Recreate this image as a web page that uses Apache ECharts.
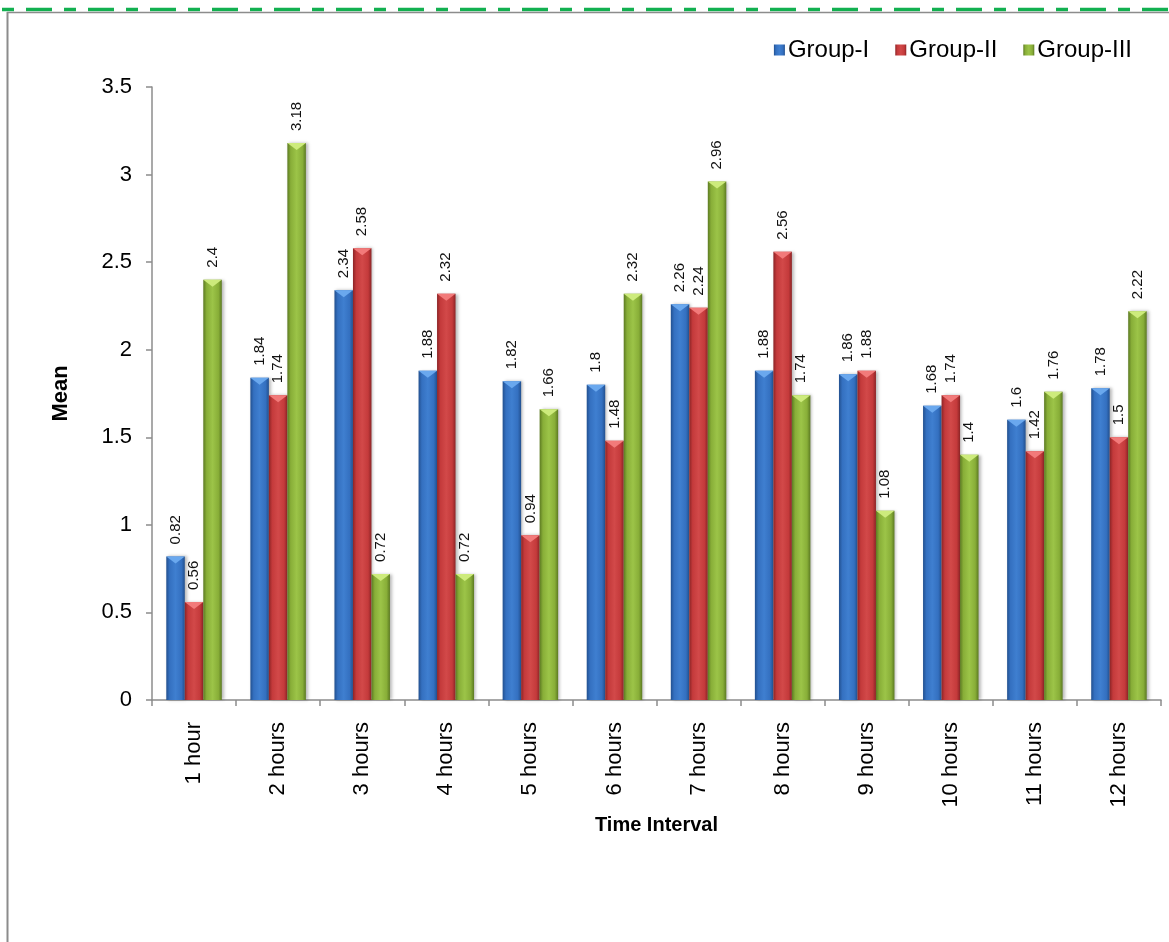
<!DOCTYPE html>
<html>
<head>
<meta charset="utf-8">
<title>Mean by Time Interval</title>
<script src="https://cdn.jsdelivr.net/npm/echarts@6/dist/echarts.min.js"></script>
<style>
  html, body { margin: 0; padding: 0; background: #ffffff; }
  #chart { width: 1169px; height: 942px; }
</style>
</head>
<body>
<div id="chart"></div>
<script>
// Categories and series values
const categories = ['1 hour', '2 hours', '3 hours', '4 hours', '5 hours', '6 hours',
                    '7 hours', '8 hours', '9 hours', '10 hours', '11 hours', '12 hours'];
const groupI   = [0.82, 1.84, 2.34, 1.88, 1.82, 1.8, 2.26, 1.88, 1.86, 1.68, 1.6, 1.78];
const groupII  = [0.56, 1.74, 2.58, 2.32, 0.94, 1.48, 2.24, 2.56, 1.88, 1.74, 1.42, 1.5];
const groupIII = [2.4, 3.18, 0.72, 0.72, 1.66, 2.32, 2.96, 1.74, 1.08, 1.4, 1.76, 2.22];
const seriesNames = ['Group-I', 'Group-II', 'Group-III'];

const FONT = '"Liberation Sans", Arial, sans-serif';

// Cylinder-like shading: dark edges, lighter centre
function shade(dark, mid, light) {
  return new echarts.graphic.LinearGradient(0, 0, 1, 0, [
    { offset: 0, color: dark },
    { offset: 0.18, color: mid },
    { offset: 0.5, color: light },
    { offset: 0.82, color: mid },
    { offset: 1, color: dark }
  ]);
}

const palette = [
  { fill: shade('#22508f', '#3470c0', '#3f7fd0'), cap: '#6aa8ee' },
  { fill: shade('#8c2426', '#c43a3b', '#d24949'), cap: '#f27a7a' },
  { fill: shade('#5c7a22', '#88ae38', '#9cc448'), cap: '#cdeb7c' }
];
const values = [groupI, groupII, groupIII];

const GAP = '34%';

const barSeries = values.map((v, i) => ({
  name: seriesNames[i],
  type: 'bar',
  data: v,
  barGap: 0,
  barCategoryGap: GAP,
  itemStyle: {
    color: palette[i].fill,
    shadowColor: 'rgba(0,0,0,0.28)',
    shadowBlur: 3,
    shadowOffsetX: 2
  },
  label: {
    show: true,
    position: 'top',
    rotate: 90,
    align: 'left',
    verticalAlign: 'middle',
    distance: 12,
    fontFamily: FONT,
    fontSize: 15,
    color: '#111'
  },
  z: 2
}));

// Bevelled caps at the top of each bar
const capSeries = values.map((v, i) => ({
  name: seriesNames[i] + ' cap',
  type: 'pictorialBar',
  data: v,
  barGap: 0,
  barCategoryGap: GAP,
  symbol: 'path://M0,0 L20,0 L10,7 Z',
  symbolSize: ['100%', 7],
  symbolPosition: 'end',
  symbolOffset: [0, 0],
  itemStyle: { color: palette[i].cap },
  silent: true,
  z: 3
}));

const chart = echarts.init(document.getElementById('chart'), null, { renderer: 'canvas' });

chart.setOption({
  animation: false,
  backgroundColor: '#ffffff',
  textStyle: { fontFamily: FONT },
  legend: {
    data: seriesNames,
    right: 32,
    top: 33,
    itemWidth: 11,
    itemHeight: 11,
    itemGap: 26,
    icon: 'rect',
    textStyle: { fontFamily: FONT, fontSize: 24, color: '#000', padding: [0, 0, 0, -2] }
  },
  grid: { left: 152, right: 8, top: 87, bottom: 242, containLabel: false },
  xAxis: {
    type: 'category',
    data: categories,
    name: 'Time Interval',
    nameLocation: 'middle',
    nameGap: 108,
    nameTextStyle: { fontFamily: FONT, fontSize: 20, fontWeight: 'bold', color: '#000' },
    axisLine: { lineStyle: { color: '#8c8c8c', width: 1.5 } },
    axisTick: { show: true, length: 6, alignWithLabel: false, lineStyle: { color: '#8c8c8c', width: 1.5 } },
    axisLabel: {
      rotate: 90,
      margin: 22,
      fontFamily: FONT,
      fontSize: 22,
      color: '#000',
      interval: 0
    }
  },
  yAxis: {
    type: 'value',
    min: 0,
    max: 3.5,
    interval: 0.5,
    name: 'Mean',
    nameLocation: 'middle',
    nameRotate: 90,
    nameGap: 80,
    nameTextStyle: { fontFamily: FONT, fontSize: 22, fontWeight: 'bold', color: '#000' },
    axisLine: { show: true, lineStyle: { color: '#8c8c8c', width: 1.5 } },
    axisTick: { show: true, length: 6, lineStyle: { color: '#8c8c8c', width: 1.5 } },
    splitLine: { show: false },
    axisLabel: { margin: 20, fontFamily: FONT, fontSize: 22, color: '#000' }
  },
  series: barSeries.concat(capSeries),
  graphic: [
    // green dashed rule across the top
    {
      type: 'line',
      shape: { x1: -36, y1: 9.5, x2: 1169, y2: 9.5 },
      style: { stroke: '#12b050', lineWidth: 3.5, lineDash: [26, 12, 12, 12] },
      silent: true
    },
    // grey frame: top edge and left edge
    {
      type: 'line',
      shape: { x1: 7, y1: 12.5, x2: 1169, y2: 12.5 },
      style: { stroke: '#8c8c8c', lineWidth: 1.5 },
      silent: true
    },
    {
      type: 'line',
      shape: { x1: 7.5, y1: 12, x2: 7.5, y2: 942 },
      style: { stroke: '#8c8c8c', lineWidth: 2 },
      silent: true
    }
  ]
});
</script>
</body>
</html>
